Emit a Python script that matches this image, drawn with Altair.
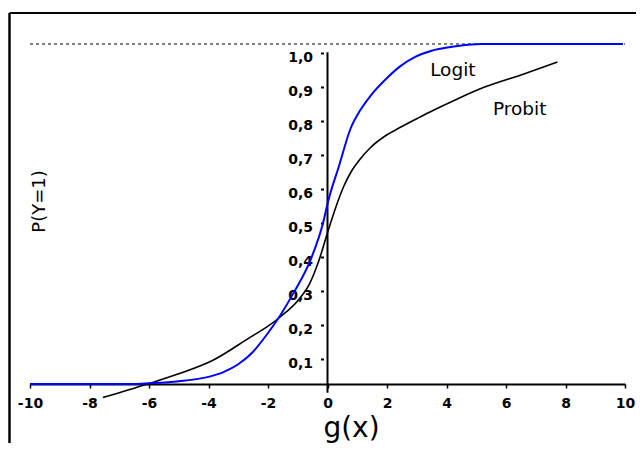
import altair as alt
import pandas as pd

# ---- data ----
logit_x = [-10, -6.5, -6, -5, -4, -3.5, -3.0, -2.5, -2.0, -1.58, -1.14, -0.57, -0.13, 0,
           0.4, 0.77, 1.1, 1.44, 2.0, 2.45, 2.95, 3.5, 4.13, 5.2, 9.93]
logit_p = [0, 0, 0.002, 0.008, 0.021, 0.035, 0.058, 0.095, 0.15, 0.203, 0.268, 0.365, 0.48, 0.53,
           0.645, 0.75, 0.805, 0.847, 0.9, 0.935, 0.962, 0.98, 0.991, 1.0, 1.0]

probit_x = [-7.55, -6.05, -5, -3.85, -2.59, -2.0, -1.55, -1.0, -0.6, -0.3, 0, 0.3, 0.54, 0.8, 1.1,
            1.44, 2.0, 2.45, 3.11, 3.56, 4.4, 5.24, 6.6, 7.73]
probit_p = [-0.04, 0.0, 0.03, 0.07, 0.138, 0.17, 0.2, 0.245, 0.295, 0.36, 0.445, 0.525, 0.58, 0.625,
            0.662, 0.695, 0.733, 0.755, 0.785, 0.805, 0.84, 0.872, 0.912, 0.947]

x_ticks = [-10, -8, -6, -4, -2, 0, 2, 4, 6, 8, 10]
y_ticks = [0.1, 0.2, 0.3, 0.4, 0.5, 0.6, 0.7, 0.8, 0.9, 1.0]

curve_labels = ["Logit", "Probit"]
curve_label_x = [3.45, 5.56]
curve_label_y = [0.924, 0.809]

# ---- tables ----
logit_df = pd.DataFrame({"x": logit_x, "p": logit_p})
probit_df = pd.DataFrame({"x": probit_x, "p": probit_p})
label_df = pd.DataFrame({"label": curve_labels, "x": curve_label_x, "p": curve_label_y})

FONT = "DejaVu Sans"

xscale = alt.Scale(domain=[-10, 10], nice=False, zero=False)
yscale = alt.Scale(domain=[0, 1], nice=False, zero=False)

xaxis = alt.Axis(
    values=x_ticks, labelExpr="'' + datum.value", grid=False,
    domainColor="black", domainWidth=2, tickColor="black", tickSize=4, tickWidth=1.5,
    labelFont=FONT, labelFontWeight="bold", labelFontSize=14, labelColor="black",
    labelPadding=8, labelOffset=0, labelFlush=False, labelOverlap=False, labelBound=False,
    title="g(x)", titleFont=FONT, titleFontSize=28, titleFontWeight="normal", titleColor="black",
    titleX=321, titleY=52, titleAlign="center", titleBaseline="alphabetic", titleAnchor="start",
)
yaxis = alt.Axis(
    values=y_ticks, labelExpr="replace(format(datum.value, '.1f'), '.', ',')",
    orient="left", offset=-293.5, domain=False, grid=False,
    tickColor="black", tickSize=3, tickWidth=2, tickOffset=9,
    labelFont=FONT, labelFontWeight="bold", labelFontSize=14, labelColor="black",
    labelPadding=8, labelOffset=4, labelFlush=False, labelOverlap=False, labelBound=False,
    title="P(Y=1)", titleFont=FONT, titleFontSize=18, titleFontWeight="normal", titleColor="black",
    titleX=-284.5, titleY=157, titleAngle=270, titleAlign="center", titleBaseline="middle",
    titleAnchor="start",
)


def X(field):
    return alt.X(field, type="quantitative", scale=xscale, axis=xaxis)


def Y(field):
    return alt.Y(field, type="quantitative", scale=yscale, axis=yaxis)


# outer frame (left and top border)
frame_left = alt.Chart(pd.DataFrame({"x": [-10.689], "p": [-0.2], "p2": [1.091]})).mark_rule(
    color="black", strokeWidth=2.5).encode(x=X("x"), y=Y("p"), y2="p2")
frame_top = alt.Chart(pd.DataFrame({"x": [-10.689], "x2": [10.64], "p": [1.091]})).mark_rule(
    color="black", strokeWidth=2).encode(x=X("x"), x2="x2", y=Y("p"))

# dashed asymptote at P = 1
dashed = alt.Chart(pd.DataFrame({"x": [-10], "x2": [10], "p": [1.0]})).mark_rule(
    color="black", strokeWidth=1, strokeDash=[3, 3]).encode(x=X("x"), x2="x2", y=Y("p"))

# vertical axis line at g(x) = 0
vline = alt.Chart(pd.DataFrame({"x": [0], "p": [-0.026], "p2": [0.976]})).mark_rule(
    color="black", strokeWidth=2).encode(x=X("x"), y=Y("p"), y2="p2")

probit = alt.Chart(probit_df).mark_line(color="black", strokeWidth=1.6, interpolate="monotone").encode(
    x=X("x"), y=Y("p"))
logit = alt.Chart(logit_df).mark_line(color="#0000ff", strokeWidth=2, interpolate="monotone").encode(
    x=X("x"), y=Y("p"))

texts = alt.Chart(label_df).mark_text(align="left", baseline="middle", font=FONT, fontSize=18.5,
                                       color="black").encode(x=X("x"), y=Y("p"), text="label")

chart = alt.layer(frame_left, frame_top, dashed, vline, probit, logit, texts).properties(
    width=595, height=340,
    autosize=alt.AutoSizeParams(type="none"),
    padding={"left": 22, "top": 36, "right": 11, "bottom": 59},
    background="white",
).configure_view(stroke=None)

chart.save("out.html", embed_options={"renderer": "svg", "actions": False})
